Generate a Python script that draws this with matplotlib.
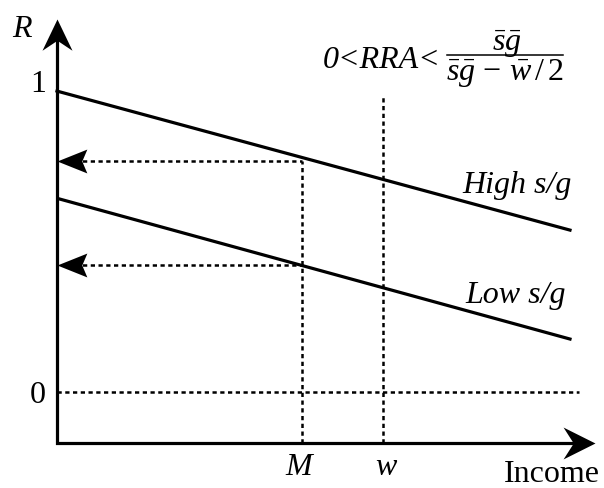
import numpy as np
import matplotlib
matplotlib.use('Agg')
import matplotlib.pyplot as plt
from matplotlib.path import Path

plt.rcParams['font.family'] = 'Liberation Serif'
plt.rcParams['mathtext.fontset'] = 'custom'
plt.rcParams['mathtext.rm'] = 'Liberation Serif'
plt.rcParams['mathtext.it'] = 'Liberation Serif:italic'

# data (income on x, R on y)
high_x = [0.0, 5.13]
high_r = [1.0, 0.538]
low_x = [0.03, 5.13]
low_r = [0.641, 0.176]
income_M = 2.45
income_w = 3.26
r_high_M = 0.767
r_low_M = 0.422
w_top = 0.987
axis_x_end = 5.38
axis_y_end = 1.239
axis_floor = -0.169
zero_end = 5.22
y_ticks = [0, 1]
y_ticklabels = ['0', '1']


def arrow_marker(direction, half_width, notch):
    # notched arrowhead with tip at the origin
    verts = np.array([[0, 0], [-1, half_width], [-notch, 0], [-1, -half_width], [0, 0]])
    if direction == 'up':
        verts = verts[:, ::-1]
    elif direction == 'left':
        verts = -verts
    codes = [Path.MOVETO, Path.LINETO, Path.LINETO, Path.LINETO, Path.CLOSEPOLY]
    return Path(verts, codes)


fig = plt.figure(figsize=(6.04, 4.89), dpi=100, facecolor='w')
ax = fig.add_axes([0, 0, 1, 1])
ax.set_xlim(-0.57, 5.47)
ax.set_ylim(-0.319, 1.306)
ax.axis('off')

dot = dict(color='black', lw=1.8, linestyle=(0, (1.7, 1.4)), zorder=1)

# dotted guides
ax.plot([0, zero_end], [0, 0], **dot)
ax.plot([income_M, income_M], [axis_floor, r_high_M], **dot)
ax.plot([income_w, income_w], [axis_floor, w_top], **dot)
ax.plot([0.1, income_M], [r_high_M, r_high_M], **dot)
ax.plot([0.1, income_M], [r_low_M, r_low_M], **dot)

# arrowheads on the dotted lines
left_head = arrow_marker('left', 0.4, 0.83)
ax.plot([0, 0], [r_high_M, r_low_M], linestyle='none', marker=left_head,
        ms=43, mfc='black', mec='black', mew=0, zorder=4)

# axes
ax.plot([0, 0, axis_x_end - 0.2], [axis_y_end - 0.06, axis_floor, axis_floor],
        color='black', lw=2.3, solid_joinstyle='miter', zorder=3)
ax.plot([0], [axis_y_end], linestyle='none', marker=arrow_marker('up', 0.48, 0.68),
        ms=45, mfc='black', mew=0, zorder=4)
ax.plot([axis_x_end], [axis_floor], linestyle='none', marker=arrow_marker('right', 0.5, 0.68),
        ms=46, mfc='black', mew=0, zorder=4)

# the two schedules
ax.plot(high_x, high_r, color='black', lw=2.3, zorder=2)
ax.plot(low_x, low_r, color='black', lw=2.3, zorder=2)

fs = 23
for t, lab in zip(y_ticks, y_ticklabels):
    ax.text(-0.19, t - (0.033 if t == 0 else 0.0), lab, fontsize=fs, ha='center', va='baseline')
ax.text(-0.35, 1.183, 'R', fontsize=fs, style='italic', ha='center', va='baseline')
ax.text(income_M - 0.03, -0.272, 'M', fontsize=fs, style='italic', ha='center', va='baseline')
ax.text(income_w + 0.03, -0.272, 'w', fontsize=fs, style='italic', ha='center', va='baseline')
ax.text(5.43, -0.296, 'Income', fontsize=fs, ha='right', va='baseline')
ax.text(4.05, 0.664, 'High s/g', fontsize=fs, style='italic', ha='left', va='baseline')
ax.text(4.08, 0.299, 'Low s/g', fontsize=fs, style='italic', ha='left', va='baseline')

# condition on RRA, written as a fraction
ax.text(2.66, 1.080, '0<RRA<', fontsize=fs, style='italic', ha='left', va='baseline')
ax.text(4.50, 1.138, r'$\bar{s}\bar{g}$', fontsize=fs, ha='center', va='baseline')
ax.plot([3.90, 5.06], [1.120, 1.120], color='black', lw=1.1)
ax.text(4.48, 1.040, r'$\bar{s}\bar{g}\,-\,\bar{w}\,/\,2$', fontsize=fs, ha='center', va='baseline')

plt.savefig('out.png', dpi=100)
